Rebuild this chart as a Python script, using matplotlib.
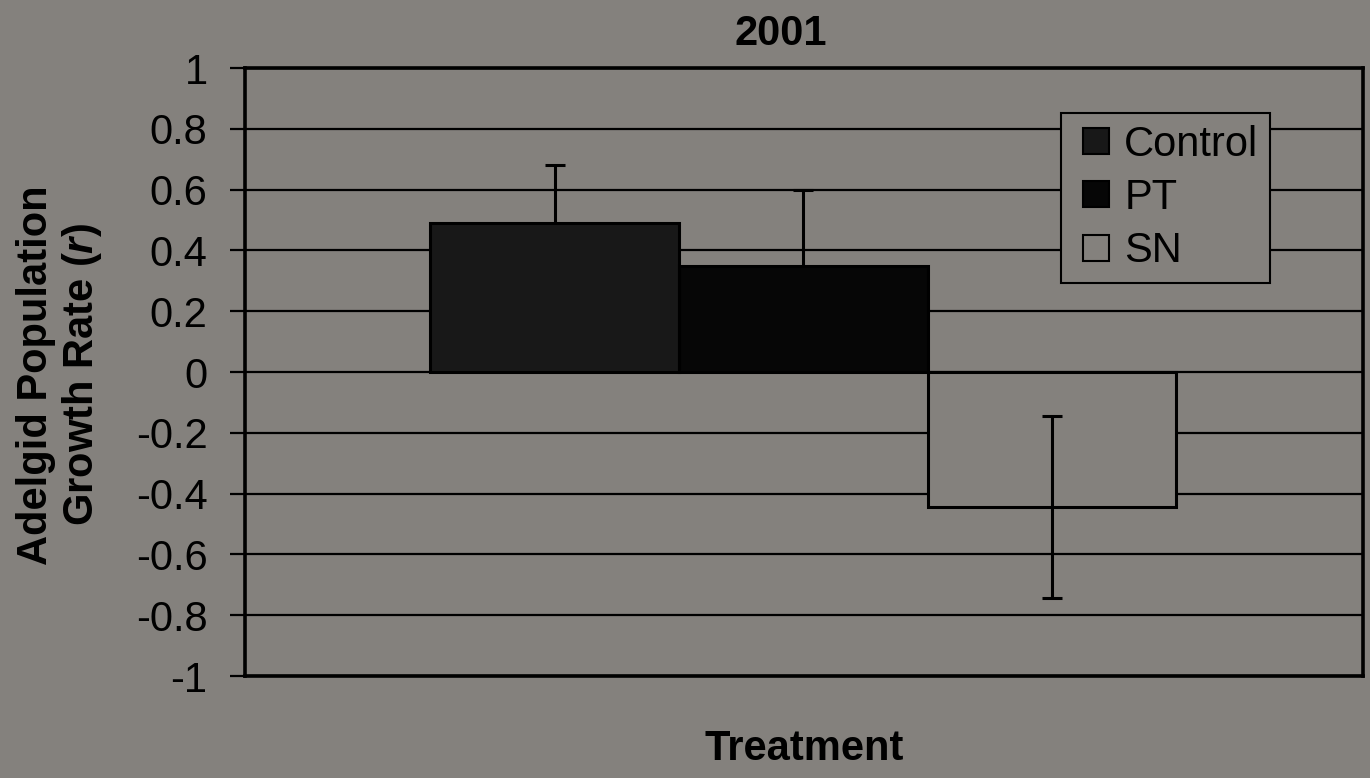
import matplotlib
matplotlib.use("Agg")
import matplotlib.pyplot as plt
from matplotlib.patches import Patch, Rectangle
from matplotlib.legend_handler import HandlerPatch

plt.rcParams['font.family'] = ['Liberation Sans', 'DejaVu Sans']
plt.rcParams['mathtext.fontset'] = 'custom'
plt.rcParams['mathtext.it'] = 'Liberation Sans:italic:bold'
plt.rcParams['mathtext.rm'] = 'Liberation Sans:bold'

# Data
categories = ["Control", "PT", "SN"]
values = [0.49, 0.35, -0.445]
errors = [0.19, 0.25, 0.30]
yticks = [-1, -0.8, -0.6, -0.4, -0.2, 0, 0.2, 0.4, 0.6, 0.8, 1]
ytick_labels = ["-1", "-0.8", "-0.6", "-0.4", "-0.2", "0", "0.2", "0.4", "0.6", "0.8", "1"]
title = "2001"
xlabel = "Treatment"
ylabel = "Adelgid Population\nGrowth Rate ($r$)"

bg = '#84817d'
face_colors = ['#181818', '#060606', bg]

W, H = 1370, 778
fig = plt.figure(figsize=(W / 100, H / 100), dpi=100)
fig.patch.set_facecolor(bg)
ax = fig.add_axes([245 / W, 1 - 676 / H, (1363 - 245) / W, (676 - 68) / H])
ax.set_facecolor(bg)

x = list(range(len(categories)))
for i, (xi, v, e, fc) in enumerate(zip(x, values, errors, face_colors)):
    ax.bar(xi, v, width=1.0, color=fc, edgecolor='black', linewidth=2.2, zorder=2)
    ax.errorbar(xi, v, yerr=e, fmt='none', ecolor='black', elinewidth=2.2,
                capsize=7.2, capthick=2.2, zorder=1.5 if fc != bg else 3)

ax.set_xlim(-1.245, 3.25)
ax.set_ylim(-1, 1)
ax.set_yticks(yticks)
ax.set_yticklabels(ytick_labels)
ax.set_xticks([])
ax.yaxis.grid(True, color='black', linewidth=1.6)
ax.set_axisbelow(True)
ax.tick_params(axis='y', direction='out', length=11, width=1.6, pad=16,
               labelsize=30, colors='black')
for s in ax.spines.values():
    s.set_linewidth(2.6)
    s.set_color('black')

fig.text(781 / W, 1 - 45 / H, title, ha='center', va='baseline',
         fontsize=30, fontweight='bold')
fig.text(804 / W, 1 - 760 / H, xlabel, ha='center', va='baseline',
         fontsize=30, fontweight='bold')
fig.text(60 / W, 1 - 375 / H, ylabel, ha='center', va='center', rotation=90,
         fontsize=30, fontweight='bold', linespacing=1.15, multialignment='center')


def square_patch(legend, orig_handle, xdescent, ydescent, width, height, fontsize):
    side = min(height, 26 * 72 / 100)
    return Rectangle((-xdescent + width - side, -ydescent + (height - side) / 2),
                     side, side)


handles = [Patch(facecolor=fc, edgecolor='black', linewidth=1.5) for fc in face_colors]
leg = ax.legend(handles, categories, loc='upper left',
                bbox_to_anchor=(1061 / W, 1 - 113 / H), bbox_transform=fig.transFigure,
                borderaxespad=0, fontsize=30, handlelength=0.88, handleheight=0.62,
                handletextpad=0.36, labelspacing=0.32, borderpad=0.28,
                handler_map={Patch: HandlerPatch(patch_func=square_patch)},
                frameon=True, fancybox=False, framealpha=1)
leg.get_frame().set_facecolor(bg)
leg.get_frame().set_edgecolor('black')
leg.get_frame().set_linewidth(1.5)
leg.set_zorder(5)

fig.savefig("out.png", dpi=100, facecolor=bg)
